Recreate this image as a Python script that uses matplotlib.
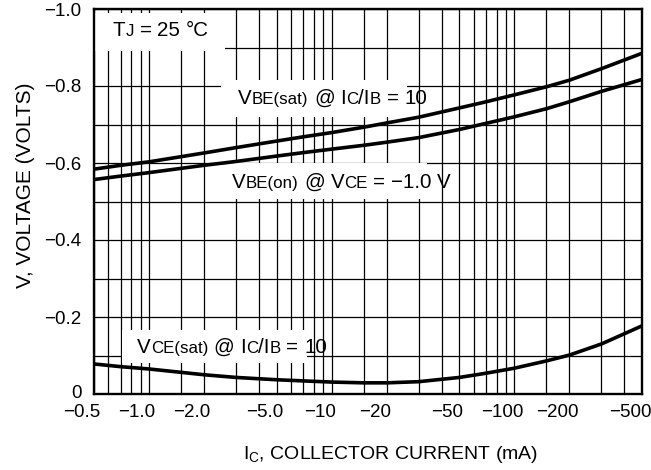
import matplotlib
matplotlib.use('Agg')
import matplotlib.pyplot as plt
import matplotlib.transforms as mtransforms
from matplotlib.patches import Rectangle
from matplotlib.font_manager import FontProperties
import numpy as np

plt.rcParams['font.family'] = ['Liberation Sans', 'DejaVu Sans']
plt.rcParams['mathtext.default'] = 'regular'

# ------------------------------------------------------------------
# Data (collector current magnitude in mA, axis is printed negative)
# ------------------------------------------------------------------
ic = [0.5, 0.7, 1.0, 2.0, 3.0, 5.0, 7.0, 10, 15, 20, 30, 50, 70, 100, 150, 200, 300, 500]

vbe_sat = [-0.584, -0.594, -0.603, -0.626, -0.640, -0.657, -0.668, -0.679, -0.693, -0.704,
           -0.719, -0.743, -0.759, -0.777, -0.798, -0.815, -0.845, -0.885]
vbe_on = [-0.557, -0.566, -0.575, -0.594, -0.604, -0.618, -0.627, -0.636, -0.646, -0.654,
          -0.666, -0.687, -0.703, -0.720, -0.741, -0.759, -0.786, -0.817]
vce_sat = [-0.078, -0.071, -0.065, -0.050, -0.043, -0.037, -0.034, -0.031, -0.029, -0.029,
           -0.032, -0.043, -0.054, -0.067, -0.086, -0.101, -0.130, -0.177]

x_ticks = [0.5, 1.0, 2.0, 5.0, 10, 20, 50, 100, 200, 500]
x_labels = ['\u22120.5', '\u22121.0', '\u22122.0', '\u22125.0', '\u221210', '\u221220',
            '\u221250', '\u2212100', '\u2212200', '\u2212500']
x_grid = [0.6, 0.7, 0.8, 0.9, 1.5, 3, 4, 6, 7, 8, 9, 15, 30, 40, 60, 70, 80, 90, 150, 300, 400]

y_ticks = [0, -0.2, -0.4, -0.6, -0.8, -1.0]
y_labels = ['0', '\u22120.2', '\u22120.4', '\u22120.6', '\u22120.8', '\u22121.0']
y_grid = [-0.1, -0.3, -0.5, -0.7, -0.9]

BIG = 14.8
SMALL = 12.2

fig = plt.figure(figsize=(6.51, 4.70), dpi=100)
ax = fig.add_axes([94 / 651, 1 - 394 / 470, 548 / 651, 385 / 470])

ax.set_xscale('log')
ax.set_xlim(0.5, 500)
ax.set_ylim(0, -1.0)
ax.set_axisbelow(True)

ax.set_xticks(x_ticks)
ax.set_xticklabels(x_labels)
ax.set_xticks(x_grid, minor=True)
ax.xaxis.set_minor_formatter(matplotlib.ticker.NullFormatter())
ax.set_yticks(y_ticks)
ax.set_yticklabels(y_labels)
ax.set_yticks(y_grid, minor=True)

ax.grid(which='both', color='black', lw=0.9)
ax.tick_params(which='both', length=0)
ax.tick_params(axis='x', pad=7, labelsize=13.5)
ax.tick_params(axis='y', pad=9, labelsize=13.5)
for sp in ax.spines.values():
    sp.set_linewidth(1.7)

shift = mtransforms.ScaledTranslation(-12 / 100, 0, fig.dpi_scale_trans)
for lbl in ax.get_xticklabels():
    lbl.set_transform(lbl.get_transform() + shift)
# the zero label sits a little higher in the original
zshift = mtransforms.ScaledTranslation(0, 3 / 100, fig.dpi_scale_trans)
y0 = ax.get_yticklabels()[0]
y0.set_transform(y0.get_transform() + zshift)

ax.plot(ic, vbe_sat, color='black', lw=2.6, zorder=2)
ax.plot(ic, vbe_on, color='black', lw=2.6, zorder=2)
ax.plot(ic, vce_sat, color='black', lw=2.6, zorder=2)

# ------------------------------------------------------------------
# Labels with small letters on the baseline (datasheet style)
# ------------------------------------------------------------------
renderer = fig.canvas.get_renderer()


def str_width(s, size):
    fp = FontProperties(family=['Liberation Sans', 'DejaVu Sans'], size=size)
    w1 = renderer.get_text_width_height_descent('|' + s + '|', fp, False)[0]
    w0 = renderer.get_text_width_height_descent('||', fp, False)[0]
    return w1 - w0


def label(x, y, parts, pads):
    # x, y in pixels from top-left of the figure (baseline start)
    fx, fy = x / 651, 1 - y / 470
    dx = 0.0
    texts = []
    for s, small in parts:
        size = SMALL if small else BIG
        if s == ' ':
            dx += str_width(' ', BIG)
            continue
        tr = fig.transFigure + mtransforms.ScaledTranslation(dx / fig.dpi, 0, fig.dpi_scale_trans)
        t = fig.text(fx, fy, s, transform=tr, fontsize=size, va='baseline', ha='left', zorder=5)
        texts.append(t)
        dx += str_width(s, size)
    bbs = [t.get_window_extent(renderer) for t in texts]
    bb = mtransforms.Bbox.union(bbs)
    l, r, b, t = pads
    box = mtransforms.Bbox([[bb.x0 - l, bb.y0 - b], [bb.x1 + r, bb.y1 + t]])
    box = box.transformed(ax.transAxes.inverted())
    ax.add_patch(Rectangle((box.x0, box.y0), box.width, box.height, transform=ax.transAxes,
                           facecolor='white', edgecolor='none', zorder=1))


label(113, 36, [('T', False), ('J', True), (' ', False), ('=', False), (' ', False),
                ('25', False), (' ', False), ('\u00b0C', False)], (22, 16, 11, 8))
label(238, 104, [('V', False), ('BE(sat)', True), (' ', False), ('@', False), (' ', False),
                 ('I', False), ('C', True), ('/I', False), ('B', True), (' ', False),
                 ('=', False), (' ', False), ('10', False)], (17, -20, 9, 9))
label(232, 188, [('V', False), ('BE(on)', True), (' ', False), ('@', False), (' ', False),
                 ('V', False), ('CE', True), (' ', False), ('=', False), (' ', False),
                 ('\u22121.0', False), (' ', False), ('V', False)], (7, -24, 7, 10))
label(137, 353, [('V', False), ('CE(sat)', True), (' ', False), ('@', False), (' ', False),
                 ('I', False), ('C', True), ('/I', False), ('B', True), (' ', False),
                 ('=', False), (' ', False), ('10', False)], (15, -20, 6, 8))

fig.text(391 / 651, 1 - 459 / 470, 'I$_C$, COLLECTOR CURRENT (mA)', ha='center',
         va='baseline', fontsize=14)
fig.text(26 / 651, 1 - 185 / 470, 'V, VOLTAGE (VOLTS)', rotation=90, ha='center',
         va='center', fontsize=15)

fig.savefig('out.png', dpi=100)
